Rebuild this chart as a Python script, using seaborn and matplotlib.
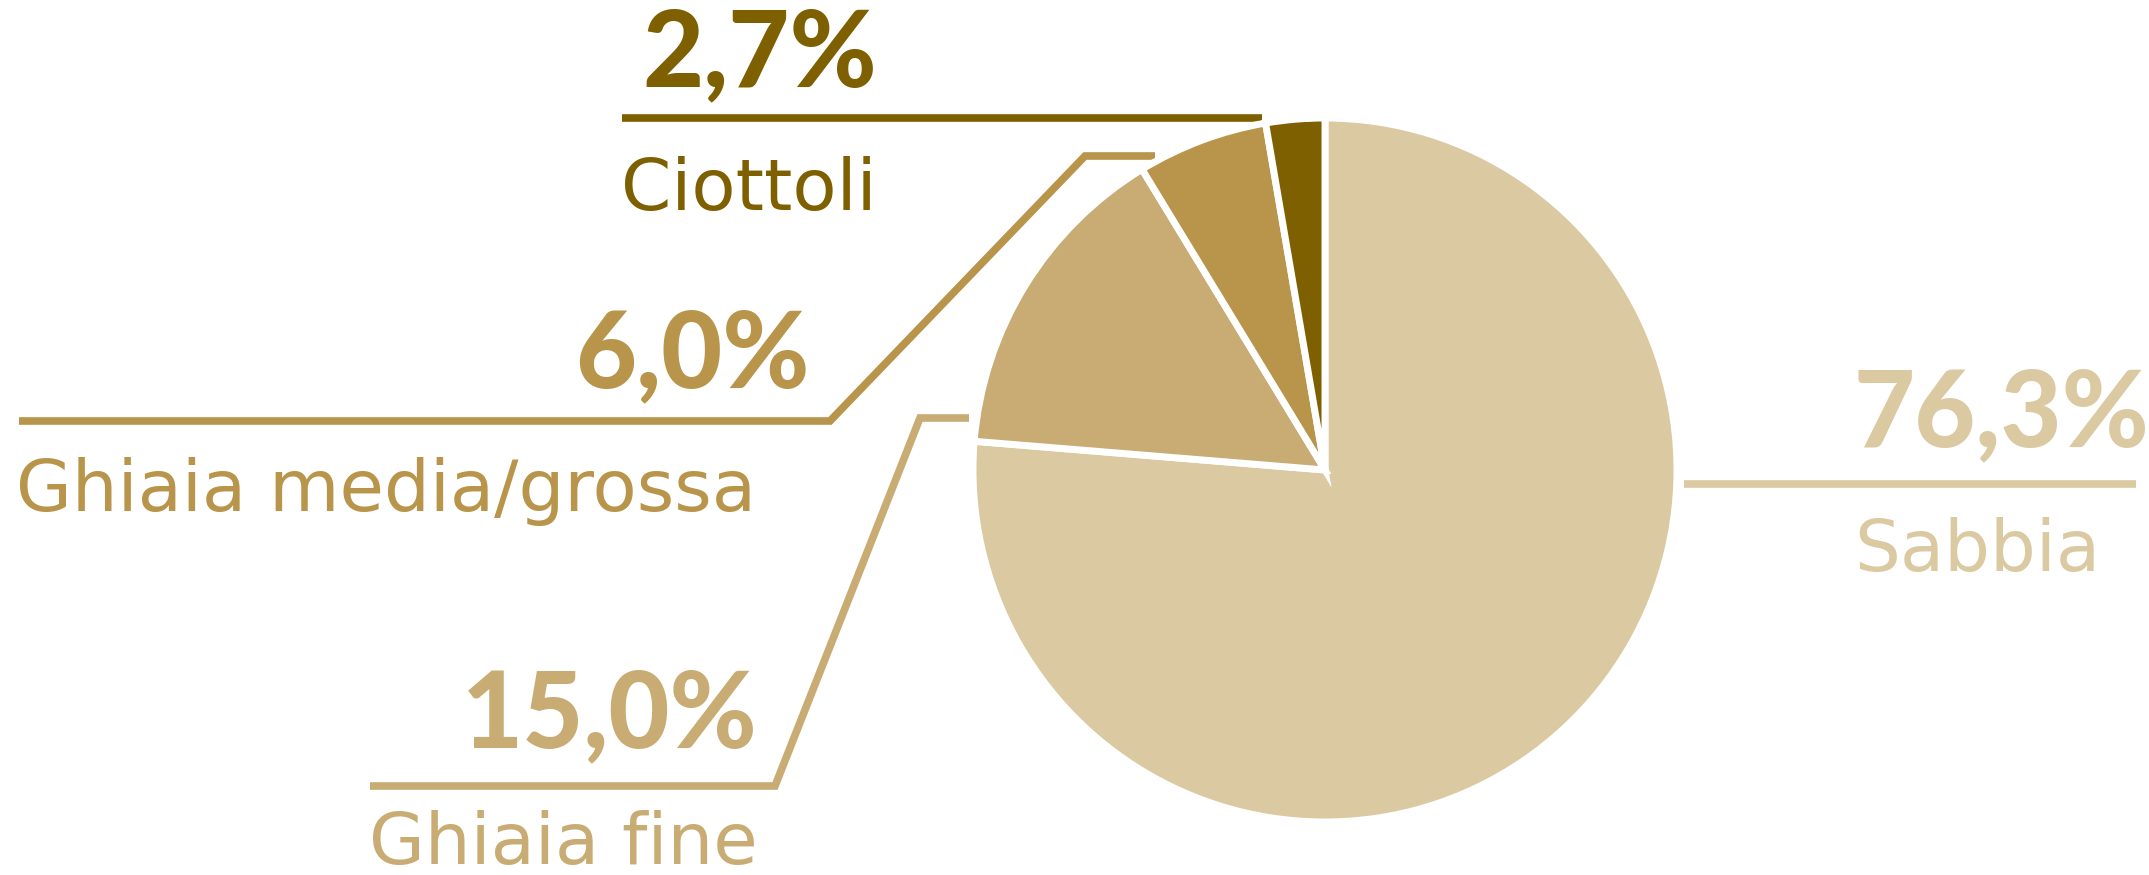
import matplotlib.pyplot as plt
import seaborn as sns
from matplotlib import font_manager

# data
categories = ['Sabbia', 'Ghiaia fine', 'Ghiaia media/grossa', 'Ciottoli']
values = [76.3, 15.0, 6.0, 2.7]
pct_labels = ['76,3%', '15,0%', '6,0%', '2,7%']
colors = ['#dbc9a2', '#c8ac73', '#b8954a', '#7f6000']

sns.set_theme(style='white')
W, H = 2149, 875

avail = {f.name for f in font_manager.fontManager.ttflist}
num_font = 'Lato' if 'Lato' in avail else 'DejaVu Sans'
lab_font = 'DejaVu Sans'

fig = plt.figure(figsize=(W / 100, H / 100), dpi=100)
ax = fig.add_axes([0, 0, 1, 1])

# pie (pixel coords, y up)
cx, cy, r = 1325, H - 470, 352
ax.pie(values, colors=colors, startangle=90, counterclock=False,
       center=(cx, cy), radius=r,
       wedgeprops=dict(edgecolor='white', linewidth=5, zorder=3))

def Y(y):
    return H - y

# leader lines (image coords)
lines = {
    'Sabbia': [(1684, 484), (2136, 484)],
    'Ghiaia fine': [(370, 786), (775, 786), (920, 418), (969, 418)],
    'Ghiaia media/grossa': [(19, 421), (830, 421), (1085, 156), (1155, 156)],
    'Ciottoli': [(622, 118), (1262, 118)],
}
for cat, col in zip(categories, colors):
    xs = [p[0] for p in lines[cat]]
    ys = [Y(p[1]) for p in lines[cat]]
    ax.plot(xs, ys, color=col, lw=5.5, solid_joinstyle='miter',
            solid_capstyle='butt', zorder=1)

# label anchors: (x, baseline of pct, baseline of name, ha)
anchors = {
    'Sabbia': (1854, 446, 571, 'left'),
    'Ghiaia fine': (758, 747, 864, 'right'),
    'Ghiaia media/grossa': (810, 387, 511, 'right'),
    'Ciottoli': (877, 86, 210, 'right'),
}
for cat, pct, col in zip(categories, pct_labels, colors):
    x, yp, yn, ha = anchors[cat]
    ax.text(x, Y(yp), pct, color=col, fontsize=76, fontweight='black',
            family=num_font, ha=ha, va='baseline')
    xn = x
    if cat == 'Ghiaia media/grossa':
        xn, ha = 16, 'left'
    ax.text(xn, Y(yn), cat, color=col, fontsize=52, fontweight='normal',
            family=lab_font, ha=ha, va='baseline')

ax.set_xlim(0, W)
ax.set_ylim(0, H)
ax.set_aspect('equal')
ax.axis('off')

fig.savefig('out.png', dpi=100, facecolor='white')
